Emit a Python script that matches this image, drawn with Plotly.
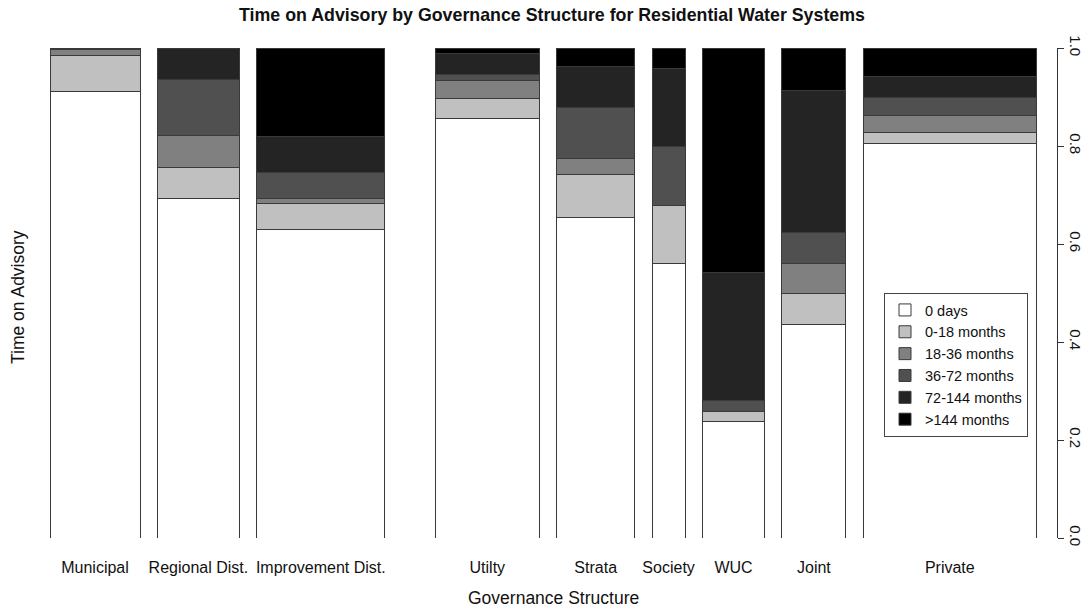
import plotly.graph_objects as go

categories = ["Municipal", "Regional Dist.", "Improvement Dist.", "Utilty", "Strata",
              "Society", "WUC", "Joint", "Private"]
# relative bar widths (proportional to number of systems)
bar_widths = [90, 82, 128, 104, 78, 33, 62, 64, 173]

series_names = ["0 days", "0-18 months", "18-36 months", "36-72 months", "72-144 months", ">144 months"]
days0 = [0.911, 0.692, 0.630, 0.857, 0.654, 0.561, 0.237, 0.436, 0.805]
m0_18 = [0.073, 0.065, 0.053, 0.039, 0.087, 0.117, 0.022, 0.063, 0.022]
m18_36 = [0.012, 0.064, 0.010, 0.038, 0.034, 0.000, 0.000, 0.062, 0.036]
m36_72 = [0.003, 0.114, 0.053, 0.012, 0.103, 0.121, 0.021, 0.063, 0.036]
m72_144 = [0.001, 0.065, 0.073, 0.042, 0.085, 0.159, 0.262, 0.290, 0.042]
m144 = [0.000, 0.000, 0.181, 0.012, 0.037, 0.042, 0.458, 0.086, 0.059]
series_vals = [days0, m0_18, m18_36, m36_72, m72_144, m144]
colors = ["#ffffff", "#c0c0c0", "#808080", "#505050", "#242424", "#000000"]

y_ticks = [0.0, 0.2, 0.4, 0.6, 0.8, 1.0]

# layout of bars along x (gaps are styling)
gap = 17.4
big_gap = 50.5
centers = []
pos = 0.0
for i, w in enumerate(bar_widths):
    if i == 3:
        pos += big_gap - gap
    centers.append(pos + w / 2)
    pos += w + gap

W, H = 1083, 610
ml, mr, mt, mb = 40, 26, 48, 72
pw, ph = W - ml - mr, H - mt - mb

fig = go.Figure()
for name, vals, col in zip(series_names, series_vals, colors):
    fig.add_trace(go.Bar(
        x=centers, y=vals, width=bar_widths, name=name,
        marker=dict(color=col, line=dict(color="#3a3a3a", width=1)),
        hoverinfo="skip",
    ))

fig.update_layout(
    width=W, height=H,
    margin=dict(l=ml, r=mr, t=mt, b=mb),
    barmode="stack",
    plot_bgcolor="white", paper_bgcolor="white",
    font=dict(family="Liberation Sans, Arial, sans-serif", size=16, color="#111"),
    showlegend=True,
    legend=dict(
        x=(884 - ml) / pw, y=(H - mb - 293) / ph,
        xanchor="left", yanchor="top",
        traceorder="normal",
        bordercolor="#444", borderwidth=1, bgcolor="white",
        font=dict(size=14.5, color="#111"),
        itemwidth=30,
    ),
    title=dict(
        text="<b>Time on Advisory by Governance Structure for Residential Water Systems</b>",
        x=552 / W, xanchor="center", y=1 - 15 / H, yanchor="middle",
        font=dict(size=17.8, color="#111"),
    ),
    xaxis=dict(
        range=[-10, pw - 10],
        tickvals=centers, ticktext=categories,
        ticks="", showline=False, showgrid=False, zeroline=False,
        ticklabelstandoff=18,
        tickfont=dict(size=16),
    ),
    yaxis=dict(
        range=[0, 1], side="right",
        tickvals=y_ticks, ticktext=[f"{v:.1f}" for v in y_ticks],
        tickangle=90,
        ticks="outside", ticklen=6, tickcolor="#333", tickwidth=1,
        showline=True, linecolor="#333", linewidth=1,
        showgrid=False, zeroline=False,
        tickfont=dict(size=15),
        automargin=False,
    ),
    annotations=[
        dict(text="Governance Structure", x=(553 - ml) / pw, y=(H - mb - 598) / ph,
             xref="paper", yref="paper", showarrow=False,
             xanchor="center", yanchor="middle", font=dict(size=17.5)),
        dict(text="Time on Advisory", x=(18 - ml) / pw, y=(H - mb - 297) / ph,
             xref="paper", yref="paper", showarrow=False,
             xanchor="center", yanchor="middle",
             textangle=-90, font=dict(size=17.5)),
    ],
)

fig.write_html("out.html")
